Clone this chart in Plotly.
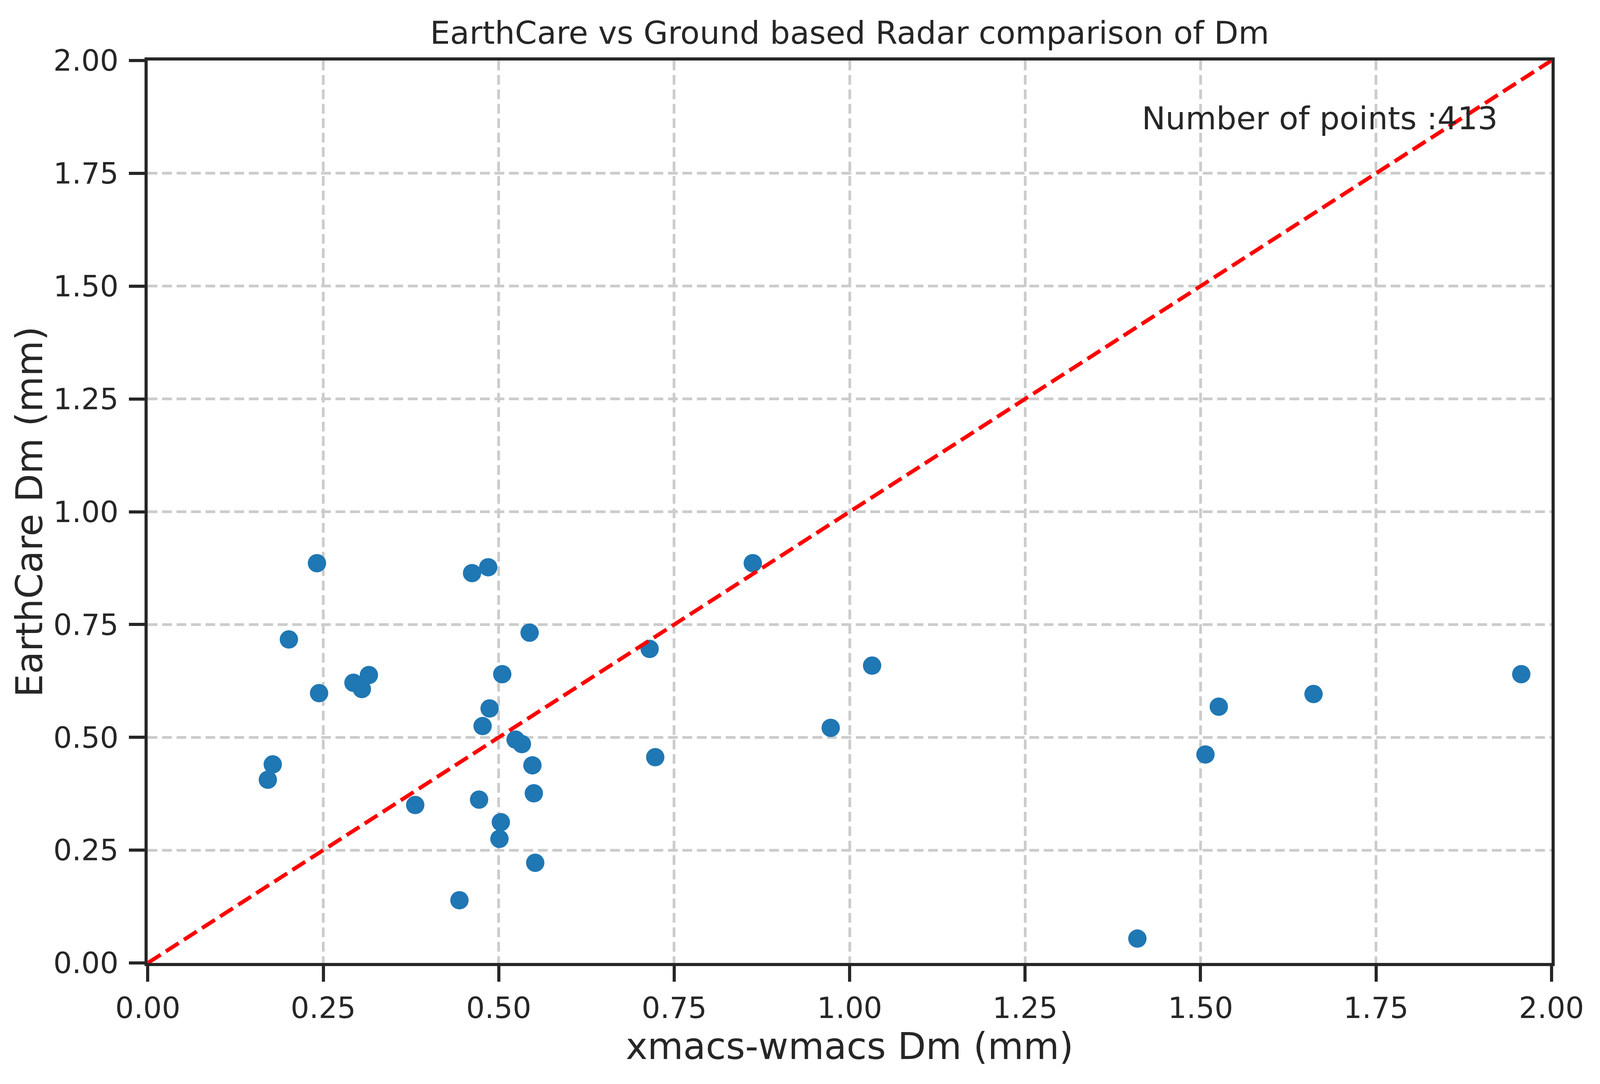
import plotly.graph_objects as go

# Dm values (mm)
xmacs_dm = [0.241, 0.462, 0.485, 0.862, 0.201, 0.544, 0.715, 1.032,
            0.244, 0.293, 0.305, 0.315, 0.505, 0.487, 0.477, 0.524,
            0.533, 0.548, 0.723, 0.973, 1.526, 1.661, 1.957, 1.507,
            0.178, 0.171, 0.381, 0.472, 0.550, 0.503, 0.501, 0.552,
            0.444, 1.410]
earthcare_dm = [0.886, 0.864, 0.877, 0.886, 0.717, 0.732, 0.696, 0.659,
                0.598, 0.621, 0.607, 0.638, 0.640, 0.564, 0.525, 0.495,
                0.485, 0.438, 0.456, 0.521, 0.568, 0.596, 0.640, 0.462,
                0.440, 0.406, 0.350, 0.362, 0.376, 0.312, 0.275, 0.222,
                0.139, 0.054]
n_points = 413

one_to_one = [0, 2]
tick_vals = [0.0, 0.25, 0.5, 0.75, 1.0, 1.25, 1.5, 1.75, 2.0]
tick_text = ['0.00', '0.25', '0.50', '0.75', '1.00', '1.25', '1.50', '1.75', '2.00']

# reference page is 4416 x 2776, plot box kept as fractions of the window
W, H = 4416, 2776
x_dom = [408 / W, 4282 / W]
y_dom = [310 / H, 1 - 155 / H]

dark = '#262626'
font = 'DejaVu Sans'

fig = go.Figure()
fig.add_trace(go.Scatter(
    x=xmacs_dm, y=earthcare_dm,
    mode='markers',
    marker=dict(color='#1f77b4', size=47, line=dict(width=0)),
    showlegend=False,
))
fig.add_trace(go.Scatter(
    x=one_to_one, y=one_to_one,
    mode='lines',
    line=dict(color='red', width=10, dash='39px,16px'),
    showlegend=False,
))

axis_style = dict(
    range=[0, 2],
    tickvals=tick_vals,
    ticktext=tick_text,
    showline=True, mirror=True, linecolor=dark, linewidth=8,
    ticks='outside', ticklen=40, tickwidth=8, tickcolor=dark,
    tickfont=dict(family=font, size=75, color=dark),
    showgrid=True, gridcolor='#cccccc', gridwidth=7, griddash='25px,12px',
    zeroline=False,
    automargin=False,
)

fig.update_layout(
    autosize=True,
    margin=dict(l=0, r=0, t=0, b=0),
    plot_bgcolor='white', paper_bgcolor='white',
    font=dict(family=font, color=dark),
    title=dict(
        text='EarthCare vs Ground based Radar comparison of Dm',
        font=dict(family=font, size=81, color=dark),
        x=(x_dom[0] + x_dom[1]) / 2, xref='paper', xanchor='center',
        y=1 - 84 / H, yref='container', yanchor='middle',
    ),
    xaxis=dict(axis_style, domain=x_dom, ticklabelstandoff=3,
               title=dict(text='xmacs-wmacs Dm (mm)', standoff=14,
                          font=dict(family=font, size=94, color=dark))),
    yaxis=dict(axis_style, domain=y_dom, ticklabelstandoff=12,
               title=dict(text='EarthCare Dm (mm)', standoff=0,
                          font=dict(family=font, size=94, color=dark))),
    annotations=[dict(
        x=1.415, y=1.872, xref='x', yref='y',
        text='Number of points :' + str(n_points),
        showarrow=False, xanchor='left', yanchor='middle',
        font=dict(family=font, size=81, color=dark),
    )],
)

# fill the browser window exactly, no body margin / scrollbars
fit_js = ("document.body.style.margin='0';"
          "document.body.style.overflow='hidden';"
          "Plotly.Plots.resize(document.getElementById('{plot_id}'));")

fig.write_html("out.html", config={'responsive': True, 'displayModeBar': False},
               default_width='100vw', default_height='100vh',
               post_script=fit_js)
